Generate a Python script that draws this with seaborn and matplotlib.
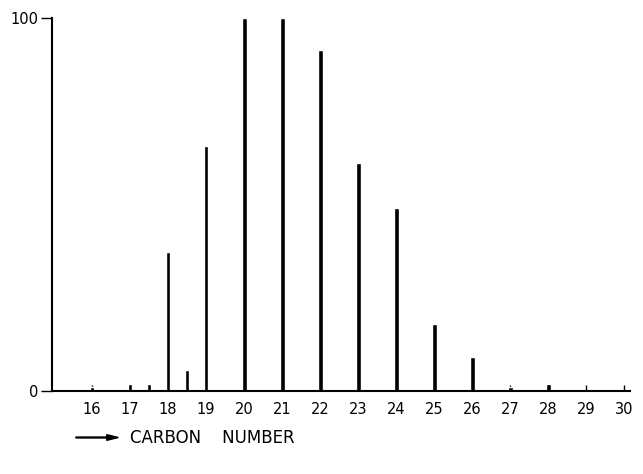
import matplotlib
matplotlib.use("Agg")
import matplotlib.pyplot as plt
import seaborn as sns
import pandas as pd

carbon = [16, 17, 17.5, 18, 18.5, 19, 20, 21, 22, 23, 24, 25, 26, 27, 28]
abundance = [1, 2, 2, 37.3, 5.6, 65.7, 100, 100, 91.4, 61.1, 49, 18, 9.1, 1, 2]
xticks = list(range(16, 31))
yticks = [0, 100]

sns.set_theme(style="white")
plt.rcParams['font.family'] = ['DejaVu Sans']
plt.rcParams['text.color'] = 'black'

fig = plt.figure(figsize=(6.43, 4.74), dpi=100)
ax = fig.add_axes([0.081, 0.175, 0.899, 0.787])

df = pd.DataFrame({"carbon": carbon, "abundance": abundance})
sns.barplot(data=df, x="carbon", y="abundance", native_scale=True,
            width=0.25, color="black", ax=ax)

ax.set_xlim(14.95, 30.15)
ax.set_ylim(0, 100)
ax.set_xticks(xticks)
ax.set_xticklabels([str(t) for t in xticks], fontsize=10.5)
ax.set_yticks(yticks)
ax.set_yticklabels([str(t) for t in yticks], fontsize=10.5)
ax.tick_params(axis="x", bottom=True, direction="in", length=4, width=1, pad=8,
               colors="black", labelcolor="black")
ax.tick_params(axis="y", left=True, direction="out", length=8, width=1, pad=2,
               colors="black", labelcolor="black")
ax.set_xlabel("")
ax.set_ylabel("")
for s in ["top", "right"]:
    ax.spines[s].set_visible(False)
for s in ["left", "bottom"]:
    ax.spines[s].set_color("black")
    ax.spines[s].set_linewidth(1.5)

fig.text(0.202, 0.075, "CARBON    NUMBER", fontsize=12, ha="left", va="center",
         color="black")
fig.patches.append(matplotlib.patches.FancyArrow(
    0.118, 0.077, 0.066, 0, width=0.002, head_width=0.012, head_length=0.018,
    transform=fig.transFigure, color="black", length_includes_head=True))

fig.savefig("out.png", dpi=100)
